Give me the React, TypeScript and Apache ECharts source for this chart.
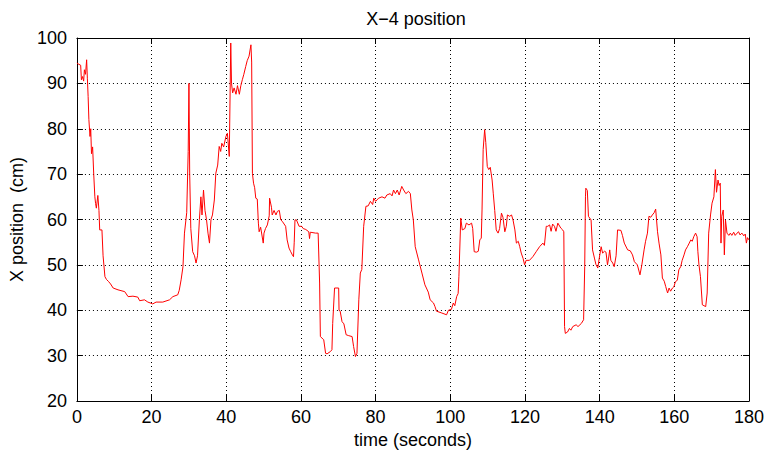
import React, { useEffect, useRef } from "react";
import * as echarts from "echarts";

const times: number[] = [
  0, 0.3, 1.0, 1.2, 1.5, 1.8, 2.0, 2.3, 2.6, 2.8, 3.0, 3.2, 3.5, 3.7, 3.9, 4.2, 4.5, 4.8, 5.0, 5.2,
  5.6, 5.9, 6.1, 6.7, 7.0, 7.5, 7.9, 8.5, 9.0, 9.7, 11, 12.8, 13.7, 15, 16.3, 16.8, 18.1, 19.0, 20.3, 21.2,
  23, 24.8, 25.7, 27, 27.4, 27.9, 28.4, 28.8, 29.4, 29.8, 30.0, 30.2, 30.5, 31.0, 31.5, 31.9, 32.3, 32.8, 33.2, 33.5,
  33.9, 34.3, 34.7, 35.1, 35.5, 35.9, 36.3, 36.8, 37.2, 37.7, 38.1, 38.5, 38.8, 39.3, 39.9, 40.3, 40.8, 41.2, 41.4, 41.7,
  42.1, 42.6, 43.0, 43.5, 43.9, 44.3, 44.7, 45.2, 45.6, 46.1, 46.6, 46.8, 47.0, 47.3, 47.6, 47.9, 48.3, 48.6, 48.8, 49.2,
  49.9, 50.1, 50.5, 51.0, 51.5, 51.6, 52.1, 52.3, 52.8, 53.3, 53.7, 54.2, 54.6, 55.0, 55.9, 56.3, 56.8, 57.2, 57.7, 58.0,
  58.2, 58.4, 58.8, 59.5, 60.2, 60.6, 61.3, 62.1, 62.3, 62.5, 63.9, 64.6, 65.0, 65.2, 66.1, 66.6, 67.0, 67.9, 68.3, 68.5,
  69.0, 70.1, 70.2, 70.5, 71.0, 71.5, 72.1, 72.8, 73.7, 74.1, 74.6, 75.0, 75.5, 75.9, 76.3, 76.8, 77.4, 78.0, 78.6, 79.2,
  79.5, 80.0, 80.8, 81.7, 82.5, 83.0, 83.9, 84.4, 84.8, 85.3, 85.8, 86.3, 87.0, 87.5, 88.1, 88.8, 89.3, 89.7, 90.1, 90.6,
  91.5, 92.4, 93.2, 94.1, 94.6, 95.5, 95.9, 96.3, 97.7, 99.0, 99.5, 100.3, 100.8, 101.2, 101.7, 102.1, 102.3, 102.8, 103.2, 103.9,
  104.3, 105.0, 105.7, 106.0, 106.4, 107.0, 107.5, 107.9, 108.3, 108.5, 108.8, 109.2, 109.5, 109.9, 110.3, 110.7, 111.2, 111.5, 111.9, 112.3,
  112.8, 113.2, 113.7, 114.1, 114.6, 115.0, 115.3, 115.9, 116.4, 116.8, 117.3, 117.7, 118.2, 118.6, 119.0, 119.5, 119.9, 120.3, 121.2, 122.1,
  123.0, 123.9, 124.8, 125.2, 125.7, 126.1, 126.6, 127.0, 127.4, 127.9, 128.3, 128.8, 129.6, 130.1, 130.4, 130.6, 130.8, 131.4, 131.9, 132.3,
  132.8, 133.7, 134.2, 135.1, 135.7, 136.0, 136.2, 136.3, 136.7, 137.0, 137.7, 138.1, 138.6, 139.0, 139.5, 139.9, 140.4, 140.8, 141.3, 141.7,
  142.1, 142.4, 142.7, 143.0, 143.5, 143.9, 144.4, 144.8, 145.7, 146.1, 146.6, 147.5, 148.2, 148.8, 149.3, 150.1, 150.8, 151.3, 151.9, 152.3,
  152.8, 153.2, 153.7, 154.1, 154.6, 155.0, 155.5, 155.9, 156.4, 156.8, 157.3, 157.7, 158.2, 158.6, 159.0, 159.5, 159.9, 160.3, 160.8, 161.2,
  161.7, 162.1, 162.6, 163.0, 163.5, 164.0, 164.4, 164.8, 165.2, 165.7, 166.1, 166.3, 166.6, 167.0, 167.5, 168.4, 168.8, 169.2, 169.7, 170.1,
  170.6, 171.0, 171.3, 171.7, 172.0, 172.3, 172.5, 172.7, 173.1, 173.4, 173.7, 174.1, 174.6, 175.0, 175.4, 175.9, 176.3, 176.8, 177.2, 177.6,
  178.1, 178.6, 179.0, 179.3, 179.6, 180,
];

const positions: number[] = [
  94.5, 94.3, 94.0, 90.8, 91.5, 90.5, 93, 92, 95.2, 91, 87.1, 82, 78.3, 80, 74.5, 76, 70, 65, 63.5, 62.5,
  65.3, 62, 57.7, 57.7, 52, 47.4, 46.8, 46.3, 45.8, 44.9, 44.5, 44.1, 43, 43.1, 42.9, 42.1, 42.3, 41.8, 41.4, 41.8,
  41.8, 42.3, 43, 43.4, 44.4, 46.7, 49.6, 57, 61.5, 75, 90, 70, 58, 52.9, 52, 50.4, 52, 60, 65, 61,
  66.5, 62, 60, 57, 54.8, 60, 61, 64.3, 70.2, 72, 76.1, 75, 76.8, 76, 78.3, 79, 73.9, 98.9, 90, 87.9,
  89, 87.6, 89.5, 87.6, 89.5, 90.8, 92, 93.7, 95, 96, 98.5, 94.7, 70.2, 68, 67, 64.7, 64.5, 59.2, 57.3, 58.3,
  54.8, 57, 58, 58.8, 60.8, 64.7, 62.7, 61, 62, 61, 61.8, 62, 59.9, 59.6, 58.5, 55.5, 53.7, 53, 52.2, 51.8,
  55, 59.9, 59.9, 58.5, 58.5, 58, 57.8, 57.3, 55.8, 57.2, 57, 57, 46, 34.2, 33.5, 30.5, 30.4, 30.9, 31.3, 37.1,
  44.9, 44.9, 40, 39.8, 37.5, 37, 34.6, 34.4, 34.2, 32, 29.8, 30.5, 42.3, 48.2, 49, 58.5, 62.9, 63, 64, 63.3,
  64.7, 64, 64.7, 65, 64.7, 65.4, 65.7, 65.2, 66.5, 65.7, 66.5, 65.4, 67.3, 66.5, 65.7, 66.2, 65.7, 62.1, 59.9, 54,
  51.1, 48.2, 45.6, 44, 42.3, 41.6, 40.8, 39.8, 39.4, 39, 40, 40.2, 41.6, 41, 43, 43.7, 47.4, 60.3, 57.7, 58,
  59.2, 58.8, 59.2, 58, 52.9, 52.8, 53, 55.5, 55.9, 62.1, 75.4, 79.8, 77, 71.7, 71, 71.5, 68.7, 65.8, 62, 57.7,
  57, 58, 61.4, 60.5, 57.3, 58.5, 61, 60.7, 61, 59.9, 57.7, 54.8, 55.2, 54, 52.6, 51.4, 50, 51, 51, 51.8,
  52.9, 54, 54.8, 54.3, 58.5, 58.5, 58.8, 57.4, 59, 58.5, 57.4, 59.2, 58.1, 57.7, 57.3, 36.4, 34.9, 35.2, 36, 35.6,
  36.4, 36.8, 36.4, 37.1, 37.9, 49.6, 65, 66.9, 66.4, 60.7, 59.9, 53.3, 51.5, 50.1, 49.3, 51.5, 54, 52.6, 53, 52.8,
  50, 51.5, 53.3, 51, 50.4, 49.6, 52, 57.7, 57.6, 56.5, 54.8, 53.3, 53.1, 52.2, 50.7, 50, 47.8, 50, 53.3, 55.2,
  57, 60.7, 60.5, 61, 61.5, 62.3, 57.3, 54.8, 52.2, 47.1, 46.4, 45.2, 43.8, 44.9, 44.2, 44.9, 45.2, 46.3, 46.6, 48.9,
  49.6, 51, 52.2, 53.3, 54, 54.8, 55.5, 55.2, 56.2, 57, 56.2, 53, 50, 47.4, 41.2, 40.8, 43.8, 57, 61, 63.6,
  65, 71, 66, 68.7, 67.5, 68, 54.8, 60.7, 62.1, 52.2, 59.9, 57, 56.5, 57, 56.5, 57.2, 56.5, 57, 57.3, 56.6,
  57, 56.4, 56.8, 54.8, 56, 55.5,
];

const TITLE = "X\u22124 position";
const X_NAME = "time (seconds)";
const Y_NAME = "X position  (cm)";

export default function App() {
  const ref = useRef<HTMLDivElement>(null);
  useEffect(() => {
    document.body.style.margin = "0";
    if (!ref.current) return;
    const chart = echarts.init(ref.current, undefined, { renderer: "svg" });
    const font = "'Liberation Sans', Arial, Helvetica, sans-serif";
    const data = times.map((t, i) => [t, positions[i]]);
    const axisLine = { show: true, onZero: false, lineStyle: { color: "#000", width: 1 } };
    const axisTick = { show: true, inside: true, length: 6, lineStyle: { color: "#000" } };
    chart.setOption({
      animation: false,
      backgroundColor: "#fff",
      textStyle: { fontFamily: font },
      title: {
        text: TITLE,
        left: 411,
        top: 5,
        textAlign: "center",
        textStyle: { fontFamily: font, fontSize: 18, fontWeight: "normal", color: "#000" },
      },
      grid: { left: 74, right: 26, top: 38, bottom: 57, containLabel: false },
      xAxis: [
        {
          type: "value",
          min: 0,
          max: 180,
          interval: 20,
          position: "bottom",
          name: X_NAME,
          nameLocation: "middle",
          nameGap: 30,
          nameTextStyle: { fontFamily: font, fontSize: 18, color: "#000" },
          axisLine,
          axisTick,
          axisLabel: { color: "#000", fontFamily: font, fontSize: 18, margin: 7 },
          splitLine: { show: true, lineStyle: { color: "#000", type: [1, 3], width: 1 } },
        },
        {
          type: "value",
          min: 0,
          max: 180,
          interval: 20,
          position: "top",
          axisLine,
          axisTick,
          axisLabel: { show: false },
          splitLine: { show: false },
        },
      ],
      yAxis: [
        {
          type: "value",
          min: 20,
          max: 100,
          interval: 10,
          position: "left",
          name: Y_NAME,
          nameLocation: "middle",
          nameGap: 44,
          nameRotate: 90,
          nameTextStyle: { fontFamily: font, fontSize: 18, color: "#000" },
          axisLine,
          axisTick,
          axisLabel: { color: "#000", fontFamily: font, fontSize: 18, margin: 10 },
          splitLine: { show: true, lineStyle: { color: "#000", type: [1, 3], width: 1 } },
        },
        {
          type: "value",
          min: 20,
          max: 100,
          interval: 10,
          position: "right",
          axisLine,
          axisTick,
          axisLabel: { show: false },
          splitLine: { show: false },
        },
      ],
      series: [
        {
          type: "line",
          data,
          xAxisIndex: 0,
          yAxisIndex: 0,
          symbol: "none",
          lineStyle: { color: "#ff0000", width: 1 },
          z: 3,
        },
      ],
    });
    return () => chart.dispose();
  }, []);
  return <div ref={ref} style={{ width: 775, height: 458 }} />;
}
